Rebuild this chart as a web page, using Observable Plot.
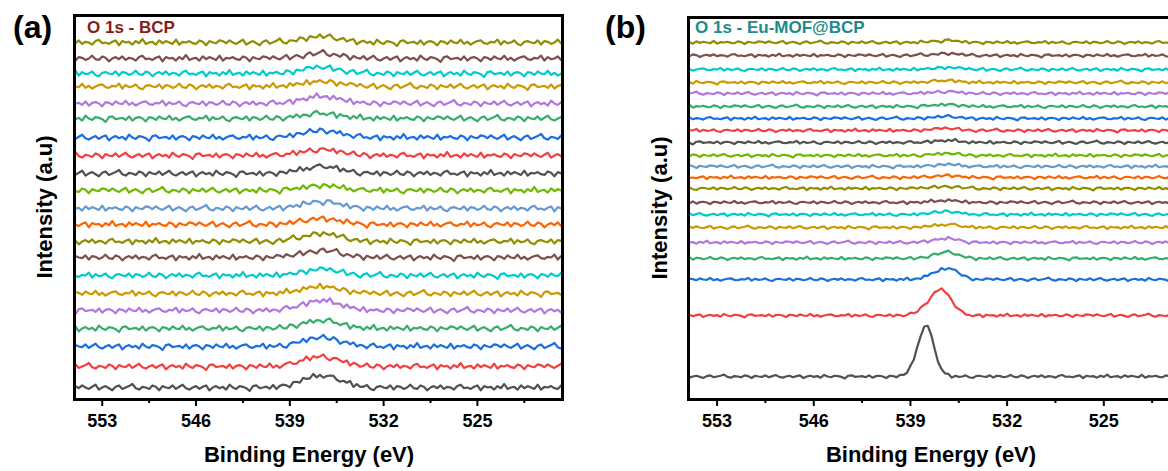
<!DOCTYPE html>
<html>
<head>
<meta charset="utf-8">
<script src="https://cdn.jsdelivr.net/npm/d3@7"></script>
<script src="https://cdn.jsdelivr.net/npm/@observablehq/plot@0.6"></script>
<style>
  html, body { margin: 0; padding: 0; background: #fff; }
  #wrap { position: relative; width: 1168px; height: 471px; overflow: hidden; background: #fff;
          font-family: "Liberation Sans", Arial, sans-serif; font-weight: bold; }
  .abs { position: absolute; white-space: nowrap; line-height: 1; }
  #pa { position: absolute; left: 0; top: 0; width: 572px; }
  #pb { position: absolute; left: 600px; top: 0; width: 601px; }
  #pa svg, #pb svg { max-width: none !important; }
  .ylab { position: absolute; font-size: 22px; transform: translate(-50%, -50%) rotate(-90deg); white-space: nowrap; line-height: 1; }
</style>
</head>
<body>
<div id="wrap">
  <div id="pa"></div>
  <div id="pb"></div>
  <div class="abs" style="left:13px;top:11px;font-size:32px;color:#000">(a)</div>
  <div class="abs" style="left:605px;top:11px;font-size:32px;color:#000">(b)</div>
  <div class="abs" style="left:87px;top:19px;font-size:17px;color:#8B1A1A">O 1s - BCP</div>
  <div class="abs" style="left:695px;top:19px;font-size:17px;color:#1E8A8A">O 1s - Eu-MOF@BCP</div>
  <div class="abs" style="left:309px;top:444px;font-size:22px;transform:translateX(-50%)">Binding Energy (eV)</div>
  <div class="abs" style="left:931px;top:444px;font-size:22px;transform:translateX(-50%)">Binding Energy (eV)</div>
  <div class="ylab" style="left:45px;top:207px">Intensity (a.u)</div>
  <div class="ylab" style="left:660px;top:208px">Intensity (a.u)</div>
</div>
<script>
// ---------- data ----------
const traceColors = ["#515151","#F14040","#1A6FDF","#37AD6B","#B177DE","#CC9900","#00CBCC","#7D4E4E","#8E8E00","#FB6501","#6699CC","#6FB802"];
const majorTicks = [553, 546, 539, 532, 525];
const minorTicks = [549.5, 542.5, 535.5, 528.5, 521.5];
const energyStart = 555, energyStep = 0.25, energyCount = 146;

// panel (a): baseline offsets (bottom -> top) and peak heights, a.u.
const offsetsA = [12, 33, 53, 71, 89, 106, 124, 142, 158, 175, 191, 209, 226, 244, 262, 281, 296, 313, 326, 341, 357];
const peaksA   = [12, 10, 9, 8, 10, 7, 6, 7, 8, 6, 7, 5, 7, 6, 7, 5, 7, 5, 6, 5, 6];
// peak profile for (a), starting at 541.0 eV in 0.25 eV steps
const profileAStart = 541.0;
const profileA = [0,0.01,0.02,0.03,0.05,0.08,0.12,0.18,0.25,0.33,0.42,0.52,0.62,0.72,0.82,0.9,0.96,1.0,0.99,0.95,0.88,0.8,0.7,0.6,0.5,0.4,0.31,0.23,0.16,0.11,0.07,0.04,0.02,0.01,0];

// panel (b)
const offsetsB = [23, 84, 120, 141, 157, 172, 185, 197, 211, 222, 233, 244, 257, 269, 281, 293, 306, 317, 330, 344, 357];
const peaksB   = [51, 26, 11, 6, 4, 3, 3, 2, 2, 2, 2, 2, 2, 2, 2, 2, 2, 2, 2, 2, 2];
const profileB0Start = 540.0; // narrow peak of bottom trace
const profileB0 = [0,0.01,0.03,0.08,0.18,0.35,0.58,0.82,0.98,0.98,0.8,0.55,0.3,0.14,0.06,0.02,0];
const profileB1Start = 539.5; // second trace
const profileB1 = [0,0.02,0.05,0.1,0.17,0.27,0.4,0.55,0.72,0.87,0.97,1.0,0.93,0.78,0.58,0.38,0.22,0.11,0.05,0.02,0];
const profileB2Start = 539.0; // upper traces
const profileB2 = [0,0.03,0.08,0.15,0.25,0.37,0.5,0.64,0.78,0.9,0.98,1.0,0.95,0.82,0.62,0.42,0.25,0.12,0.05,0];

// hand-read noise wiggles (relative units)
const noise = [2,-1,3,0,-2,1,4,-3,0,2,-1,-4,1,3,-2,0,2,5,-1,-3,1,0,-2,3,1,-4,2,0,-1,3,-2,1,4,-1,-3,0,2,-2,1,3,-4,0,2,-1,1,-3,4,0,-2,2,1,-1,-5,2,3,-1,0,1,-2,3,-3,1,2,0,-4,2,1,-2,3,0,-1,4,-2,1,-3,0,2,3,-1,-2,1,0,4,-3,2,-1,0,3,-2,-4,1,2,0,-1,3,-3,2,1,-2,0,4,-1,-2,3,1,-4,0,2,-1,3,-2,1,0,-3,2,4,-1,0,-2,1,3,-4,2,0,1,-3,2,-1,5,-2,0,1,-3,3,-1,2,0,-2,4,-3,1,0,2,-1,-2,3,1,-4,2,0,-1,3];

// ---------- build ----------
const energies = d3.range(energyCount).map(k => energyStart - k * energyStep);
function lookup(profile, start, e) {
  const k = Math.round((start - e) / energyStep);
  return (k >= 0 && k < profile.length) ? profile[k] : 0;
}
function buildTraces(offsets, peaks, profFor, amp, shiftMul, shiftAdd) {
  return offsets.map((off, i) => {
    const [prof, start] = profFor(i);
    return energies.map((e, j) => ({
      e,
      v: off + peaks[i] * lookup(prof, start, e) + amp * noise[(j + shiftMul * i + shiftAdd) % noise.length]
    }));
  });
}
const tracesA = buildTraces(offsetsA, peaksA, () => [profileA, profileAStart], 0.7, 13, 0);
const tracesB = buildTraces(offsetsB, peaksB, i => i === 0 ? [profileB0, profileB0Start] : i === 1 ? [profileB1, profileB1Start] : [profileB2, profileB2Start], 0.38, 29, 7);

function panel(traces, opts) {
  const innerH = opts.innerH;
  return Plot.plot({
    width: opts.marginLeft + opts.innerW + opts.marginRight,
    height: opts.marginTop + innerH + opts.marginBottom,
    marginLeft: opts.marginLeft, marginRight: opts.marginRight,
    marginTop: opts.marginTop, marginBottom: opts.marginBottom,
    style: { fontFamily: '"Liberation Sans", Arial, sans-serif', background: "transparent", overflow: "visible", maxWidth: "none" },
    x: { domain: [555.07, 518.65] },
    y: { domain: [0, innerH], axis: null },
    marks: [
      ...traces.map((t, i) => Plot.line(t, { x: "e", y: "v", stroke: traceColors[i % traceColors.length], strokeWidth: 2.2 })),
      Plot.frame({ stroke: "#000", strokeWidth: 3 }),
      Plot.axisX({ ticks: majorTicks, tickSize: 7, tickPadding: 8, strokeWidth: 2, fontSize: 18, fontWeight: "bold", fill: "#000", tickFormat: d => String(d), label: null }),
      Plot.axisX({ ticks: minorTicks, tickSize: 4, strokeWidth: 2, text: null, label: null })
    ]
  });
}

document.getElementById("pa").appendChild(panel(tracesA, { marginLeft: 74, innerW: 488, marginRight: 10, marginTop: 15, innerH: 384, marginBottom: 41 }));
document.getElementById("pb").appendChild(panel(tracesB, { marginLeft: 88, innerW: 503, marginRight: 10, marginTop: 17, innerH: 382, marginBottom: 41 }));
</script>
</body>
</html>
